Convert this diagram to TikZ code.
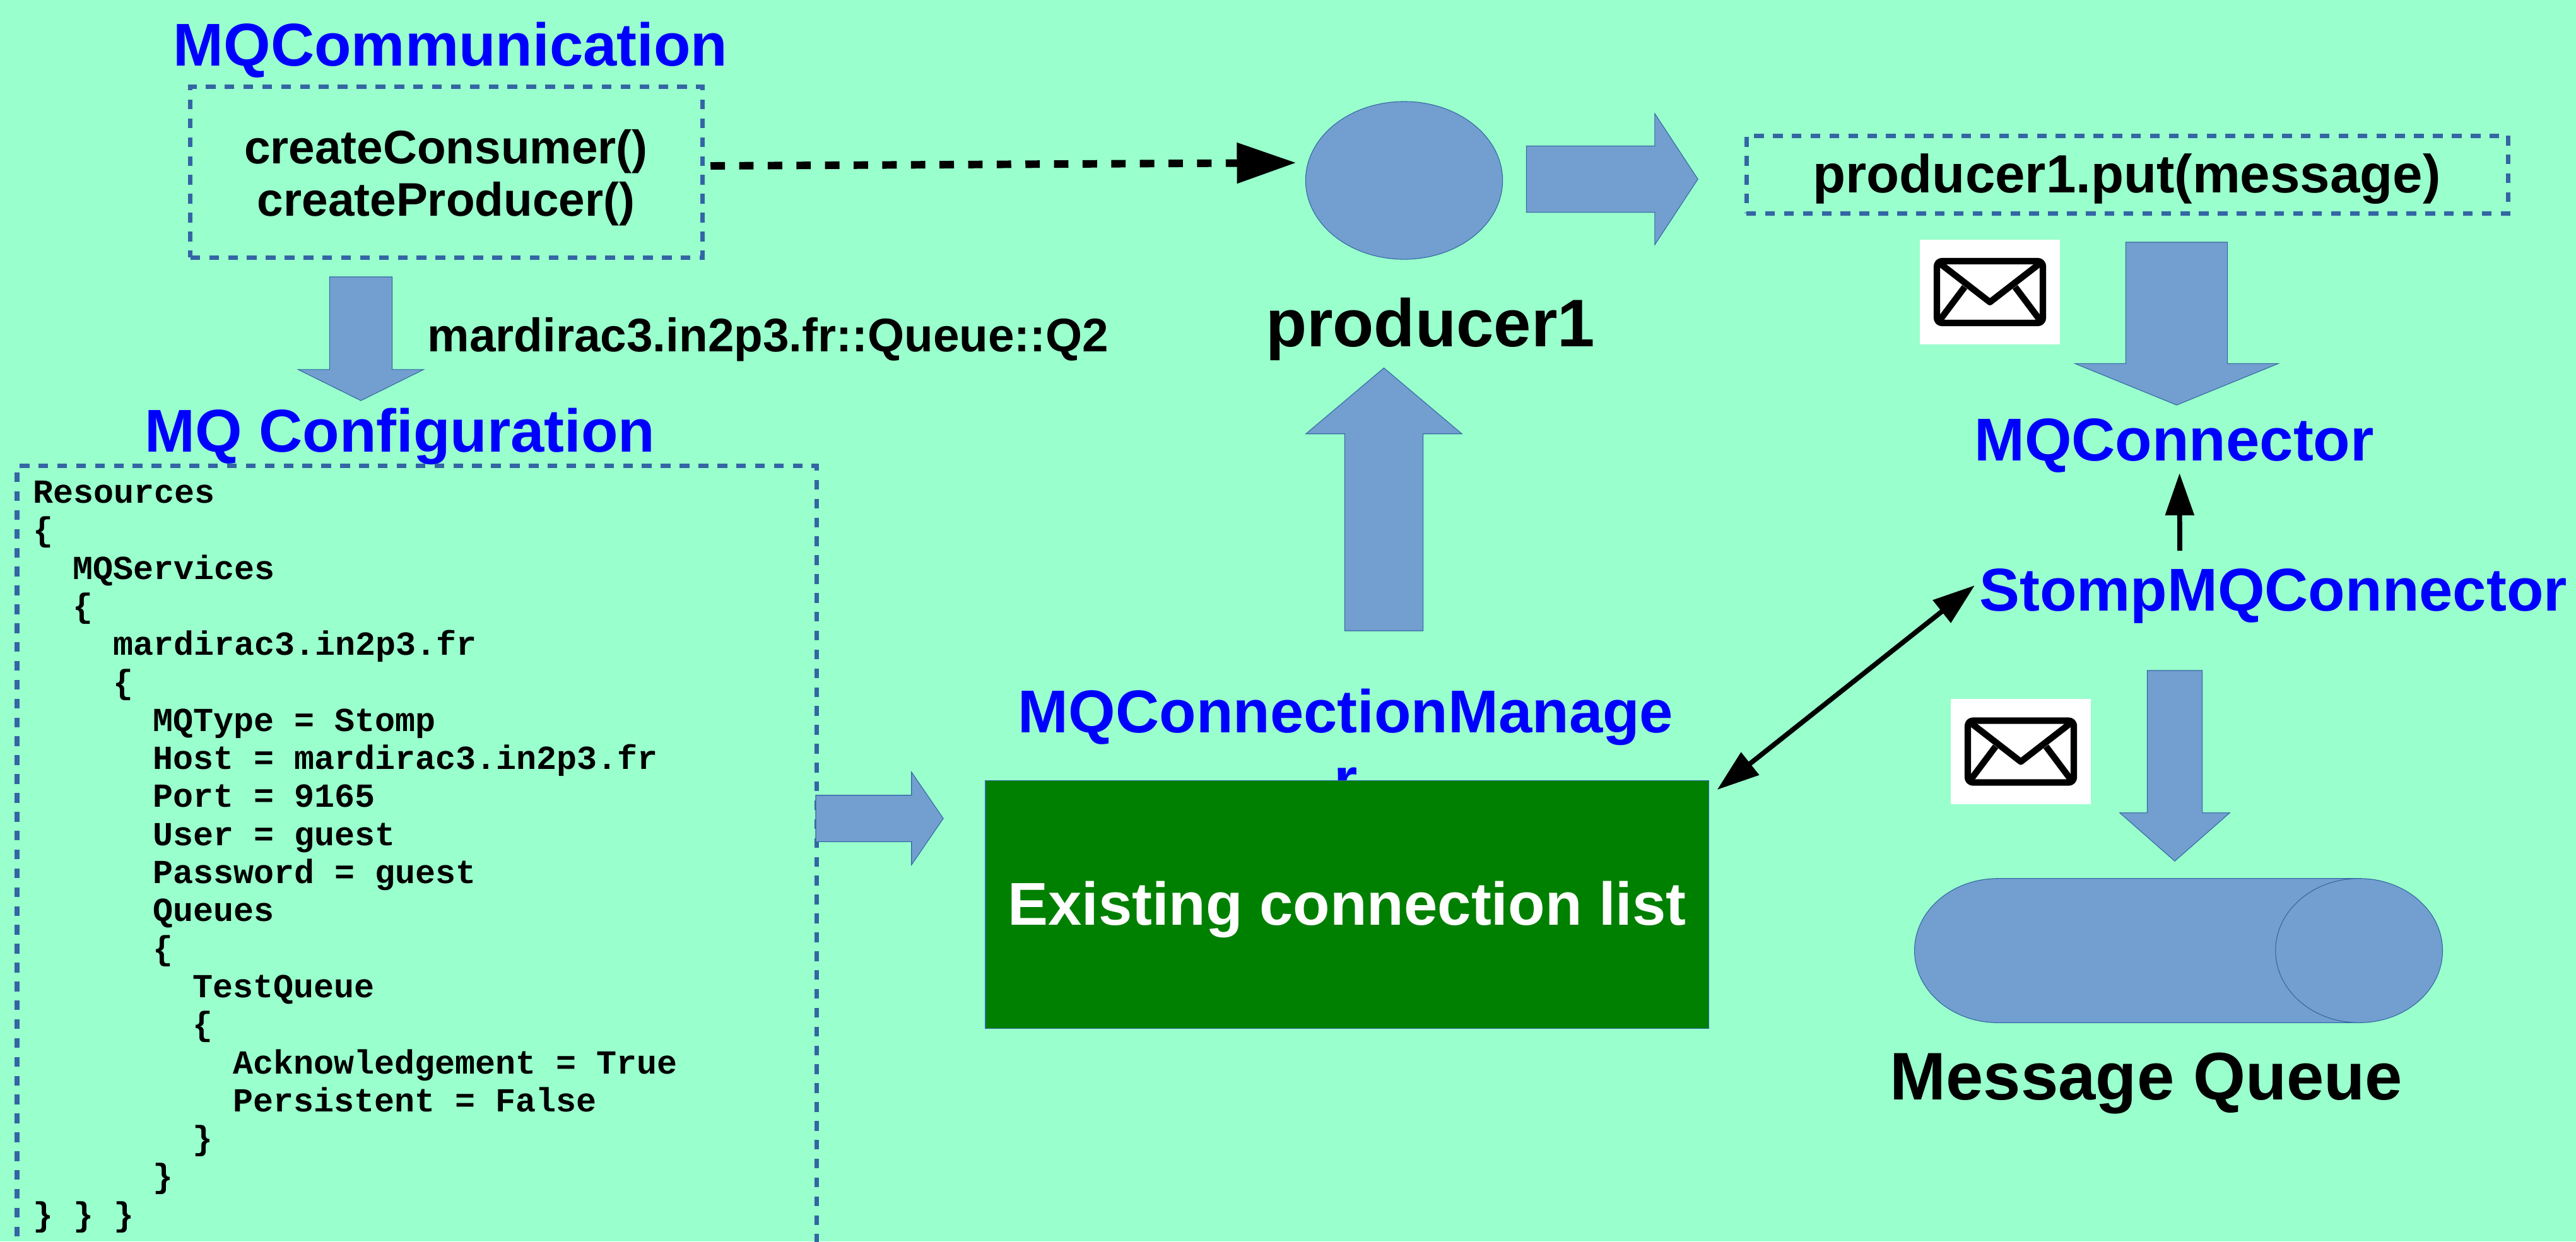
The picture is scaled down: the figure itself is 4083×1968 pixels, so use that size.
\documentclass[tikz,border=0pt]{standalone}
\usepackage{fontspec}
\setmainfont{Liberation Sans}
\setmonofont{Liberation Mono}
\usetikzlibrary{arrows.meta,shapes.geometric,shapes.arrows}
\definecolor{bgcol}{HTML}{99FFCC}
\definecolor{shapefill}{HTML}{729FCF}
\definecolor{shapeline}{HTML}{3465A4}
\definecolor{listgreen}{HTML}{008000}

\newcommand{\mailicon}[2]{
  \node[mailbox] (#1) at #2 {};
  \begin{scope}[shift={(#1.center)}]
    \draw[mailstroke, rounded corners=2.3pt] (-84,-49) rectangle (84,49);
    \draw[mailstroke] (-80,-46) -- (0,16) -- (80,-46);
    \draw[mailstroke] (-82,48) -- (-40,-8);
    \draw[mailstroke] (82,48) -- (40,-8);
  \end{scope}
}

\begin{document}
\begin{tikzpicture}[x=0.01cm, y=-0.01cm,
  bluetitle/.style={font=\fontsize{27.25pt}{30.4pt}\selectfont\bfseries, text=blue, inner sep=0pt},
  calltext/.style={font=\fontsize{21.25pt}{23.6pt}\selectfont\bfseries, inner sep=0pt},
  bigtext/.style={font=\fontsize{30.35pt}{34pt}\selectfont\bfseries, inner sep=0pt},
  codeline/.style={font=\fontsize{15.17pt}{17pt}\selectfont\ttfamily\bfseries, inner sep=0pt, anchor=base west},
  dashbox/.style={draw=shapeline, line width=2pt, dash pattern=on 4.4pt off 4.1pt, inner sep=0pt, outer sep=0pt},
  blockarrow/.style={single arrow, draw=shapeline, fill=shapefill, line width=.3pt, inner sep=0pt, outer sep=0pt, single arrow head indent=0pt, anchor=tail},
  blackline/.style={line width=2.2pt},
  blacktip/.tip={Triangle[length=19pt,width=12.6pt]},
  mailbox/.style={fill=white, minimum width=2.22cm, minimum height=1.66cm, inner sep=0pt},
  mailstroke/.style={draw=black, line width=2.9pt, line join=round}]

  \clip (0,0) rectangle (4083,1968);
  \fill[bgcol] (0,0) rectangle (4083,1968);

  \node[bluetitle, anchor=base] (commtitle) at (714,104) {MQCommunication};
  \node[dashbox, minimum width=8.11cm, minimum height=2.7cm] (comm) at (707.5,273) {};
  \node[calltext, align=center] (calls) at (707,281.5) {createConsumer()\\createProducer()};

  \node[blockarrow, shape border rotate=270, minimum height=1.96cm, minimum width=1.98cm, inner xsep=.49cm,
    single arrow head extend=.5cm, single arrow tip angle=127.3] (toconfig) at (572,439) {};
  \node[calltext, anchor=base west] (queuename) at (677,557) {mardirac3.in2p3.fr::Queue::Q2};

  \node[bluetitle, anchor=base] (configtitle) at (634,716) {MQ Configuration};
  \node[dashbox, anchor=north west, minimum width=12.665cm, minimum height=14cm] (config) at (27,738.6) {};
  \foreach \level/\codetext [count=\k from 0] in {0/Resources, 0/{\{}, 1/MQServices, 1/{\{},
      2/mardirac3.in2p3.fr, 2/{\{}, 3/MQType = Stomp, 3/Host = mardirac3.in2p3.fr, 3/Port = 9165,
      3/User = guest, 3/Password = guest, 3/Queues, 3/{\{}, 4/TestQueue, 4/{\{},
      5/Acknowledgement = True, 5/Persistent = False, 4/{\}}, 3/{\}}, 0/{\} \} \}}}
    \node[codeline] (code\k) at (51.5+63.4*\level, 797.5+60.3*\k) {\codetext};

  \node[blockarrow, shape border rotate=0, minimum height=2.02cm, minimum width=1.46cm, inner ysep=.3625cm,
    single arrow head extend=.3675cm, single arrow tip angle=111.2] (tomanager) at (1293,1297.5) {};

  \node[bluetitle, align=center] (managertitle) at (2133,1180) {MQConnectionManage\\r};
  \node[draw=shapeline, fill=listgreen, line width=.3pt, anchor=north west, outer sep=0pt,
    minimum width=11.46cm, minimum height=3.93cm, inner sep=0pt] (connlist) at (1562,1237) {};
  \node[bluetitle, text=white, anchor=base] (listtext) at (2135,1466.5) {Existing connection list};

  \node[ellipse, draw=shapeline, fill=shapefill, line width=.3pt, minimum width=3.12cm, minimum height=2.5cm, inner sep=0pt, outer sep=0pt] (producer) at (2225.5,286) {};
  \node[bigtext, anchor=base] (producername) at (2267,549) {producer1};
  \node[blockarrow, shape border rotate=90, minimum height=4.165cm, minimum width=2.46cm, inner xsep=.615cm,
    single arrow head extend=.615cm, single arrow tip angle=99.6] (toproducer) at (2193.5,1000) {};
  \node[blockarrow, shape border rotate=0, minimum height=2.717cm, minimum width=2.07cm, inner ysep=.52cm,
    single arrow head extend=.515cm, single arrow tip angle=113.4] (toput) at (2419.3,284) {};

  \node[dashbox, anchor=north west, minimum width=12.07cm, minimum height=1.23cm] (putbox) at (2768,215) {};
  \node[font=\fontsize{24.25pt}{27pt}\selectfont\bfseries, inner sep=0pt, anchor=base] (puttext) at (3371,305) {producer1.put(message)};

  \mailicon{mailone}{(3154,463)}
  \node[blockarrow, shape border rotate=270, minimum height=2.58cm, minimum width=3.21cm, inner xsep=.8cm,
    single arrow head extend=.805cm, single arrow tip angle=135.6] (toconnector) at (3450,384) {};

  \node[bluetitle, anchor=base] (connector) at (3446,730) {MQConnector};
  \node[bluetitle, anchor=base] (stomp) at (3603,968) {StompMQConnector};

  \mailicon{mailtwo}{(3203,1191.5)}
  \node[blockarrow, shape border rotate=270, minimum height=3.02cm, minimum width=1.73cm, inner xsep=.43cm,
    single arrow head extend=.435cm, single arrow tip angle=97.4] (toqueue) at (3447,1063) {};

  \node[cylinder, draw=shapeline, fill=shapefill, line width=.3pt, anchor=west, aspect=1.158, outer sep=0pt,
    minimum height=8.365cm, minimum width=2.285cm, inner xsep=0pt, inner ysep=1.1425cm] (queue) at (3034.5,1507) {};
  \node[bigtext, anchor=base] (queuetitle) at (3402,1743) {Message Queue};

  \draw[line width=3.4pt, dash pattern=on 6.5pt off 6.4pt, -{Triangle[length=26.7pt,width=17.6pt]}]
    ([shift={(13,-10)}]comm.east) -- ([shift={(-15,-28)}]producer.west);
  \draw[blackline, -blacktip] ([shift={(-148,-95)}]stomp.base) -- ([shift={(8.6,20)}]connector.base);
  \draw[blackline, blacktip-blacktip] ([shift={(13,15)}]connlist.north east) -- ([shift={(-473,-40)}]stomp.base);
\end{tikzpicture}
\end{document}
